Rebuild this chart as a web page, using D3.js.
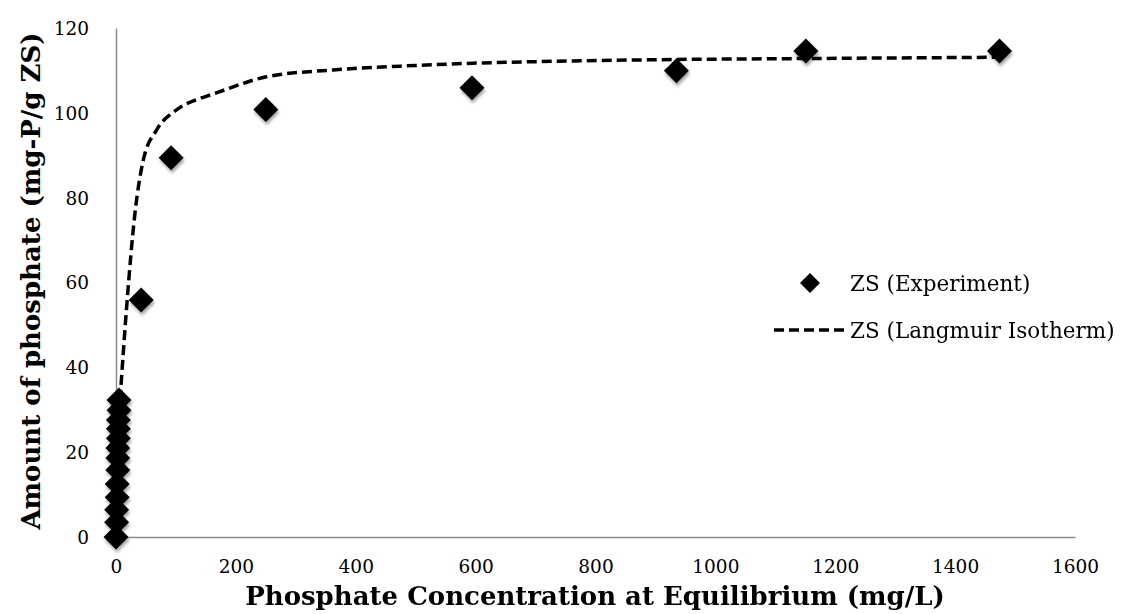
<!DOCTYPE html>
<html>
<head>
<meta charset="utf-8">
<script src="https://cdn.jsdelivr.net/npm/d3@7"></script>
<style>
    body { margin: 0; background: #fff; }
    #chart-area { width: 1135px; height: 614px; }
    .tick-label { font-family: "DejaVu Serif", serif; font-size: 18.5px; fill: #000; }
    .axis-title { font-family: "DejaVu Serif", serif; font-size: 26px; font-weight: bold; fill: #000; }
    .legend-label { font-family: "DejaVu Serif", serif; font-size: 21.5px; fill: #000; }
</style>
</head>
<body>
<div id="chart-area"></div>
<script>

// experimental equilibrium points
let expConc = [0, 1, 1, 2, 2, 3, 3, 3, 4, 4, 4, 5, 5, 42, 92, 250, 594, 935, 1151, 1474];
let expAmount = [0, 3.5, 6.4, 9.4, 12.5, 15.8, 18.6, 21, 23.3, 25.5, 27.6, 29.9, 32.3, 55.9, 89.4, 100.8, 105.9, 109.9, 114.6, 114.6];

// fitted isotherm curve
let fitConc = [6.7, 17.8, 31.7, 45.6, 67.9, 101, 140, 157, 251, 362, 474, 596, 752, 886, 1152, 1474];
let fitAmount = [32.3, 54.3, 76.4, 88.9, 96, 100.7, 103.4, 104.2, 108.5, 110.1, 111, 111.7, 112.2, 112.5, 112.8, 113.1];

let xTicks = [0, 200, 400, 600, 800, 1000, 1200, 1400, 1600];
let yTicks = [0, 20, 40, 60, 80, 100, 120];

let seriesNames = ["ZS (Experiment)", "ZS (Langmuir Isotherm)"];


class IsothermChart {

    constructor(parentElement) {
        this.parentElement = parentElement;
        this.initVis();
    }

    initVis() {
        let vis = this;

        vis.margin = {top: 28, right: 60, bottom: 77, left: 116};
        vis.width = 1135 - vis.margin.left - vis.margin.right;
        vis.height = 614 - vis.margin.top - vis.margin.bottom;

        vis.root = d3.select("#" + vis.parentElement).append("svg")
            .attr("width", 1135)
            .attr("height", 614);

        // soft shadow under the markers
        let filter = vis.root.append("defs").append("filter")
            .attr("id", "markerShadow")
            .attr("x", "-50%").attr("y", "-50%")
            .attr("width", "200%").attr("height", "200%");
        filter.append("feDropShadow")
            .attr("dx", 1)
            .attr("dy", 3)
            .attr("stdDeviation", 1.8)
            .attr("flood-color", "#000")
            .attr("flood-opacity", 0.35);

        vis.svg = vis.root.append("g")
            .attr("transform", `translate(${vis.margin.left}, ${vis.margin.top})`);

        vis.x = d3.scaleLinear().domain([0, 1600]).range([0, vis.width]);
        vis.y = d3.scaleLinear().domain([0, 120]).range([vis.height, 0]);

        vis.diamond = (r) => `M0,${-r}L${r},0L0,${r}L${-r},0Z`;

        vis.wrangleData();
    }

    wrangleData() {
        let vis = this;

        vis.points = expConc.map((c, i) => ({c: c, q: expAmount[i]}));
        vis.fit = fitConc.map((c, i) => ({c: c, q: fitAmount[i]}));

        vis.updateVis();
    }

    updateVis() {
        let vis = this;

        // axes
        let xAxis = d3.axisBottom(vis.x).tickValues(xTicks).tickFormat(d3.format("d"))
            .tickSize(0).tickPadding(22);
        let yAxis = d3.axisLeft(vis.y).tickValues(yTicks).tickFormat(d3.format("d"))
            .tickSize(0).tickPadding(27);

        let gx = vis.svg.append("g")
            .attr("transform", `translate(0, ${vis.height})`)
            .call(xAxis);
        let gy = vis.svg.append("g").call(yAxis);

        [gx, gy].forEach(g => {
            g.attr("font-family", null).attr("font-size", null);
            g.select(".domain").attr("stroke", "#8a8a8a").attr("stroke-width", 1.5);
            g.selectAll(".tick text").attr("class", "tick-label");
        });
        gx.selectAll(".tick text").attr("dy", "0.75em");
        gy.selectAll(".tick text").attr("dy", "0.35em");

        // fitted curve
        let line = d3.line()
            .x(d => vis.x(d.c))
            .y(d => vis.y(d.q))
            .curve(d3.curveMonotoneX);

        vis.svg.append("path")
            .datum(vis.fit)
            .attr("fill", "none")
            .attr("stroke", "#000")
            .attr("stroke-width", 3.5)
            .attr("stroke-dasharray", "10,5")
            .attr("d", line);

        // experiment markers
        vis.svg.append("g")
            .attr("filter", "url(#markerShadow)")
            .selectAll("path")
            .data(vis.points)
            .enter()
            .append("path")
            .attr("d", vis.diamond(12.5))
            .attr("transform", d => `translate(${vis.x(d.c)}, ${vis.y(d.q)})`)
            .attr("fill", "#000");

        // legend
        let legend = vis.root.append("g").attr("class", "legend");

        legend.append("path")
            .attr("d", vis.diamond(10))
            .attr("transform", "translate(810, 283)")
            .attr("fill", "#000");
        legend.append("text")
            .attr("class", "legend-label")
            .attr("x", 850)
            .attr("y", 283)
            .attr("dy", "0.35em")
            .text(seriesNames[0]);

        legend.append("line")
            .attr("x1", 774).attr("x2", 845)
            .attr("y1", 330).attr("y2", 330)
            .attr("stroke", "#000")
            .attr("stroke-width", 3.5)
            .attr("stroke-dasharray", "10,5");
        legend.append("text")
            .attr("class", "legend-label")
            .attr("x", 850)
            .attr("y", 330)
            .attr("dy", "0.35em")
            .text(seriesNames[1]);

        // axis titles
        vis.root.append("text")
            .attr("class", "axis-title")
            .attr("x", 595)
            .attr("y", 605)
            .attr("text-anchor", "middle")
            .text("Phosphate Concentration at Equilibrium (mg/L)");

        vis.root.append("text")
            .attr("class", "axis-title")
            .attr("transform", "translate(40, 281) rotate(-90)")
            .attr("text-anchor", "middle")
            .text("Amount of phosphate (mg-P/g ZS)");
    }
}

let chart = new IsothermChart("chart-area");

</script>
</body>
</html>
